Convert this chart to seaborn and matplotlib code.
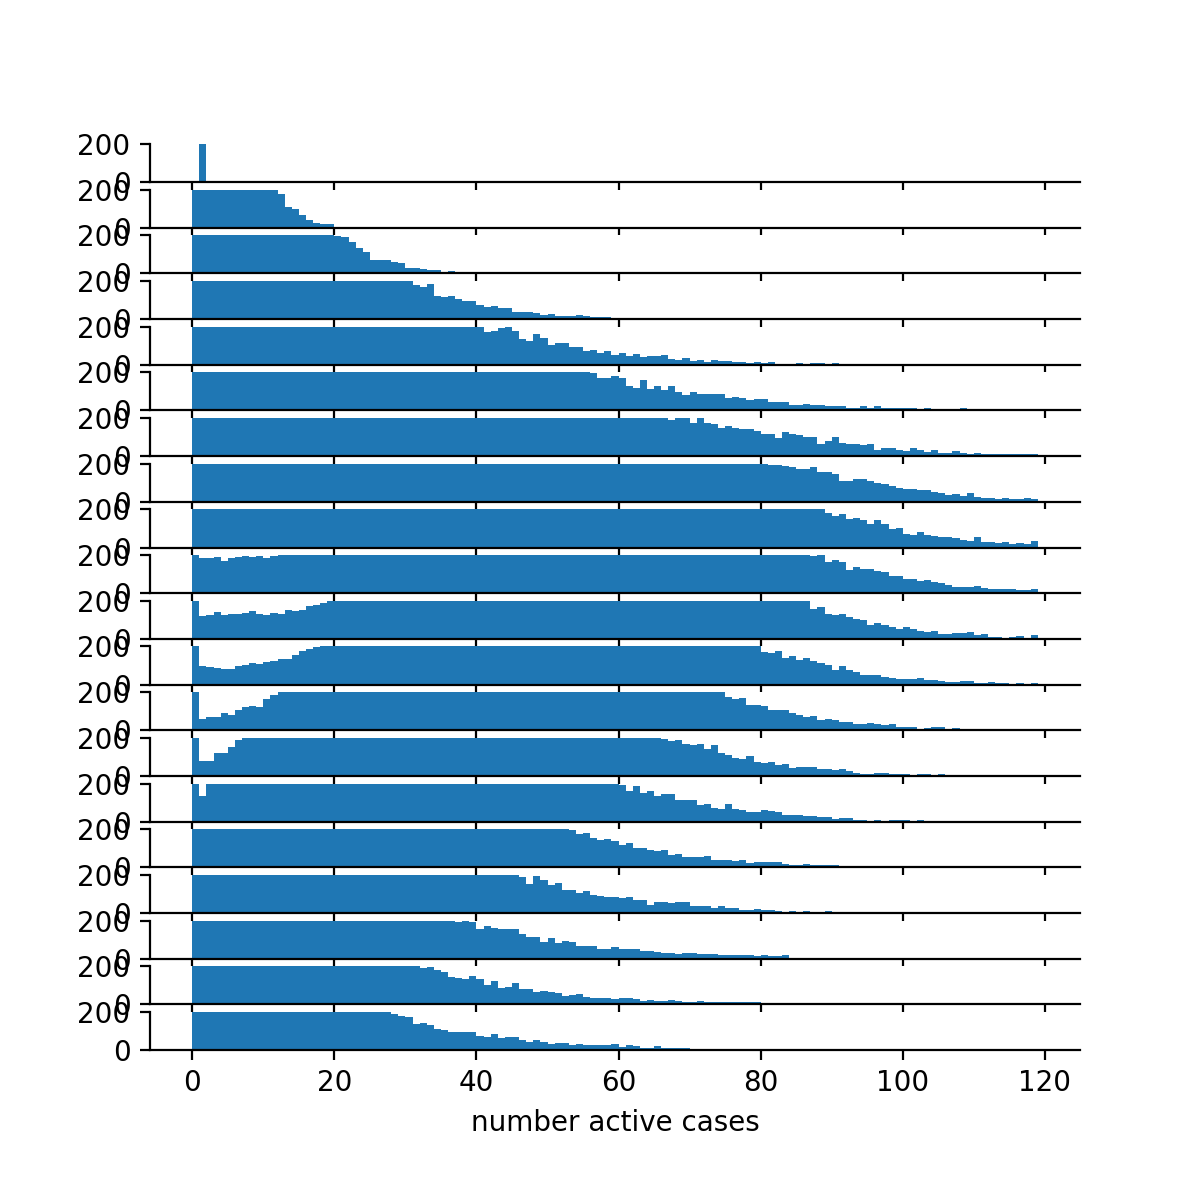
import matplotlib
matplotlib.use("Agg")
import matplotlib.pyplot as plt
import seaborn as sns
import numpy as np
import pandas as pd

# histogram counts per snapshot, one entry per integer bin starting at 0
# (values at 200 are off the top of the y range)
snap01 = [0, 200]
snap02 = [200] * 12 + [179, 107, 96, 69, 39, 24, 18, 18]
snap03 = [200] * 20 + [197, 191, 167, 136, 114, 69, 69, 69, 60, 55, 30, 30, 24, 18, 18, 9, 13]
snap04 = [200] * 31 + [181, 170, 185, 122, 116, 122, 105, 94, 94, 76, 65, 71, 57, 57, 35, 35,
                       35, 30, 22, 25, 15, 15, 15, 20, 15, 10, 10, 10]
snap05 = [200] * 41 + [173, 179, 193, 198, 179, 136, 125, 162, 141, 104, 114, 114, 93, 93, 71,
                       76, 62, 71, 51, 62, 45, 56, 40, 45, 45, 51, 29, 24, 34, 21, 24, 15, 24, 21,
                       21, 15, 15, 11, 13, 10, 13, 0, 0, 0, 10, 0, 10, 10, 0, 10]
snap06 = [200] * 56 + [195, 168, 168, 179, 168, 131, 120, 158, 115, 126, 110, 126, 99, 83, 99,
                       88, 88, 88, 85, 64, 72, 64, 53, 58, 58, 42, 47, 42, 31, 31, 36, 31, 31, 25,
                       25, 21, 15, 15, 21, 15, 21, 15, 11, 11, 15, 11, 0, 11, 0, 0, 0, 0, 11]
snap07 = [200] * 67 + [190, 200, 200, 173, 200, 173, 168, 147, 158, 147, 141, 141, 130, 114, 114,
                       93, 125, 119, 109, 98, 98, 65, 82, 98, 71, 62, 62, 56, 62, 34, 45, 45, 34,
                       29, 45, 34, 24, 34, 19, 19, 29, 19, 13, 19, 13, 13, 10, 13, 10, 10, 10, 13]
snap08 = [200] * 81 + [196, 196, 186, 181, 170, 175, 181, 155, 155, 144, 107, 112, 122, 122, 107,
                       101, 96, 85, 74, 68, 65, 60, 60, 54, 49, 38, 43, 32, 49, 27, 22, 22, 13,
                       22, 17, 17, 22, 17]
snap09 = [200] * 89 + [179, 163, 174, 148, 153, 143, 126, 143, 121, 95, 100, 73, 68, 84, 68, 59,
                       54, 54, 48, 37, 32, 54, 27, 27, 22, 27, 17, 22, 17, 32]
snap10 = ([200, 186, 186, 191, 170, 186, 191, 195, 191, 195, 186, 195] + [200] * 75 +
          [195, 200, 163, 174, 163, 122, 138, 127, 127, 116, 112, 91, 91, 74, 74, 64, 69, 60,
           55, 44, 34, 34, 34, 39, 28, 24, 24, 20, 20, 17, 17, 24])
snap11 = ([200, 122, 126, 142, 126, 131, 131, 137, 147, 131, 126, 137, 131, 153, 147, 153, 174,
           179, 190, 200] + [200] * 67 +
          [158, 168, 131, 126, 131, 115, 105, 99, 72, 83, 72, 63, 52, 63, 52, 41, 36, 41, 25,
           25, 30, 30, 36, 21, 25, 10, 10, 0, 10, 15, 0, 21])
snap12 = ([200, 97, 91, 86, 81, 81, 97, 102, 112, 107, 117, 122, 133, 133, 154, 174, 185, 195] +
          [200] * 62 +
          [169, 164, 174, 138, 149, 128, 138, 122, 112, 102, 76, 97, 76, 65, 51, 51, 51, 40, 35,
           30, 30, 30, 35, 25, 25, 20, 11, 16, 20, 20, 10, 10, 15, 10, 10, 0, 10, 0, 10])
snap13 = ([200, 60, 69, 69, 90, 80, 107, 122, 127, 122, 164, 185] + [200] * 63 +
          [174, 164, 169, 132, 132, 127, 107, 107, 107, 90, 80, 69, 74, 55, 60, 55, 44, 44, 34,
           34, 39, 34, 28, 34, 19, 19, 19, 0, 11, 15, 17, 0, 13])
snap14 = ([200, 78, 78, 120, 120, 152, 189] + [200] * 59 +
          [193, 183, 189, 167, 162, 167, 141, 162, 120, 110, 94, 89, 105, 73, 67, 73, 59, 64,
           43, 48, 48, 48, 37, 37, 32, 37, 26, 17, 11, 11, 17, 17, 11, 11, 11, 0, 11, 11, 0, 11])
snap15 = ([200, 132] + [200] * 58 +
          [190, 163, 185, 148, 159, 132, 143, 143, 115, 111, 111, 89, 95, 73, 64, 95, 64, 59,
           48, 48, 59, 54, 48, 37, 37, 37, 32, 32, 22, 22, 13, 17, 17, 11, 11, 0, 11, 0, 11, 11,
           11, 0, 11])
snap16 = [200] * 53 + [195, 174, 180, 154, 143, 148, 138, 116, 127, 101, 101, 91, 85, 91, 64, 69,
                       55, 55, 55, 60, 39, 39, 39, 34, 39, 24, 28, 28, 28, 28, 19, 13, 13, 19, 13,
                       13, 13, 13]
snap17 = [200] * 46 + [190, 154, 195, 174, 148, 159, 122, 122, 107, 116, 96, 91, 85, 85, 80, 85,
                       69, 69, 44, 55, 60, 50, 55, 55, 34, 34, 39, 28, 34, 24, 28, 18, 18, 22, 15,
                       17, 11, 0, 11, 0, 11, 0, 0, 11]
snap18 = [200] * 37 + [190, 200, 195, 154, 174, 159, 154, 154, 154, 127, 112, 112, 85, 107, 80,
                       91, 85, 69, 64, 69, 50, 50, 60, 50, 50, 50, 39, 39, 34, 28, 28, 24, 28,
                       28, 24, 24, 24, 19, 19, 19, 19, 19, 13, 19, 13, 13, 19]
snap19 = [200] * 32 + [190, 195, 180, 169, 143, 138, 132, 148, 132, 101, 122, 85, 91, 112, 80,
                       80, 64, 69, 64, 60, 44, 50, 55, 39, 34, 34, 34, 28, 34, 34, 28, 19, 24, 19,
                       19, 24, 19, 13, 10, 17, 10, 10, 13, 13, 10, 10, 10, 13]
snap20 = [200] * 28 + [190, 180, 174, 138, 143, 132, 112, 107, 96, 96, 96, 96, 74, 69, 85, 64,
                       69, 69, 55, 44, 55, 44, 34, 39, 39, 28, 34, 28, 24, 24, 24, 34, 15, 24, 19,
                       11, 10, 19, 11, 10, 11, 11]

snapshots = [snap01, snap02, snap03, snap04, snap05, snap06, snap07, snap08, snap09, snap10,
             snap11, snap12, snap13, snap14, snap15, snap16, snap17, snap18, snap19, snap20]

fig, axes = plt.subplots(len(snapshots), 1, sharex=True, figsize=(6, 6), dpi=200)
fig.subplots_adjust(bottom=0.125, hspace=0.2)

for ax, counts in zip(axes, snapshots):
    df = pd.DataFrame({"cases": np.arange(len(counts)) + 0.5, "n": counts})
    sns.histplot(data=df, x="cases", weights="n", binwidth=1, binrange=(0, len(counts)),
                 ax=ax, color="#1f77b4", alpha=1, linewidth=0)
    ax.set_ylim(0, 200)
    ax.set_yticks([0, 200])
    ax.set_ylabel("")
    ax.set_xlabel("")
    ax.spines["top"].set_visible(False)
    ax.spines["right"].set_visible(False)

axes[-1].set_xlabel("number active cases")

fig.savefig("out.png")
